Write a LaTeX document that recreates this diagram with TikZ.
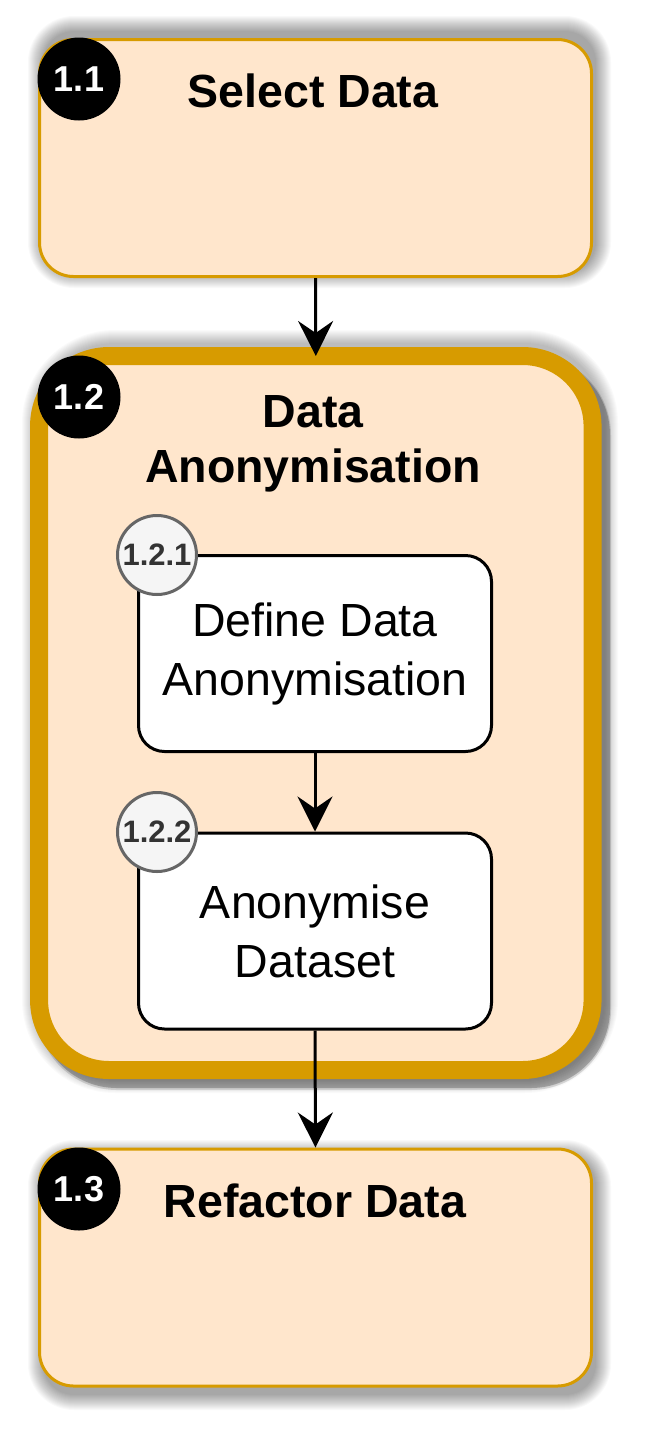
\documentclass[tikz,border=0pt]{standalone}
\usepackage{fontspec}
\setmainfont{Liberation Sans}
\usetikzlibrary{arrows.meta}
\definecolor{ob}{HTML}{D79B00}
\definecolor{of}{HTML}{FFE6CC}
\definecolor{bg}{HTML}{F5F5F5}
\definecolor{bb}{HTML}{666666}
\definecolor{bt}{HTML}{333333}
% soft shadow: #1,#2 = top-left, #3,#4 = bottom-right, #5 = corner radius, #6 = layers, #7 = opacity per layer
\newcommand\mysoftshadow[7]{%
  \foreach \i in {1,...,#6}{%
    \pgfmathsetmacro\rr{#5+\i}%
    \fill[black, fill opacity=#7, rounded corners=\rr pt] (#1-\i,#2-\i) rectangle (#3+\i,#4+\i);
  }}
\begin{document}
\begin{tikzpicture}[x=1pt,y=-1pt,
 phase/.style={draw=ob, line width=3pt, fill=of, rounded corners=34pt, minimum width=552pt, minimum height=237pt, inner sep=0pt},
 task/.style={draw=black, line width=3pt, fill=white, rounded corners=26pt, minimum width=353pt, minimum height=196pt, inner sep=0pt, align=center, font=\fontsize{46.5}{59}\selectfont},
 title/.style={font=\bfseries\fontsize{46.5}{55}\selectfont, anchor=base, inner sep=0pt, align=center},
 badge/.style={circle, fill=black, minimum size=83pt, inner sep=0pt, text=white, font=\bfseries\fontsize{36}{36}\selectfont},
 subbadge/.style={circle, fill=bg, draw=bb, line width=3pt, minimum size=79pt, inner sep=0pt, text=bt, font=\bfseries\fontsize{31}{31}\selectfont},
 flow/.style={draw=black, line width=3pt, -{Stealth[length=35pt,width=35pt,inset=12pt,fill=black]}}]
\useasboundingbox[fill=white] (0,0) rectangle (645,1433);

% shadows
\mysoftshadow{44}{32}{595}{272}{30}{16}{0.024}
\mysoftshadow{36}{344}{604}{1079}{79}{14}{0.02}
\fill[black, fill opacity=0.22, rounded corners=79pt] (38,356) rectangle (610,1088);
\fill[black, fill opacity=0.12, rounded corners=80pt] (37,355) rectangle (611,1090);
\mysoftshadow{44}{1156}{595}{1394}{30}{16}{0.024}

% phase 1.1
\node[phase] (b11) at (315.5,158) {};
\node[title] (t11) at (313,107) {Select Data};

% phase 1.2
\node[draw=ob, line width=18pt, fill=of, rounded corners=70pt, minimum width=553.5pt, minimum height=714pt, inner sep=0pt, outer sep=0pt] (b12) at (315.8,713) {};
\node[title] (t12) at (313,482) {Data\\Anonymisation};

\node[task] (b121) at (315,653.5) {Define Data\\Anonymisation};
\node[task] (b122) at (315,931) {Anonymise\\Dataset};

% phase 1.3
\node[phase] (b13) at (315.5,1267.5) {};
\node[title] (t13) at (315,1217) {Refactor Data};

% connectors
\draw[flow] (b11.south) -- (b12.north);
\draw[flow] (b121.south) -- (b122.north);
\draw[flow] (b122.south) -- (b13.north);

% badges
\node[badge] (n11) at (79,79) {1.1};
\node[badge] (n12) at (79,397) {1.2};
\node[badge] (n13) at (79,1189) {1.3};
\node[subbadge] (n121) at (157,555) {1.2.1};
\node[subbadge] (n122) at (157,832) {1.2.2};
\end{tikzpicture}
\end{document}
